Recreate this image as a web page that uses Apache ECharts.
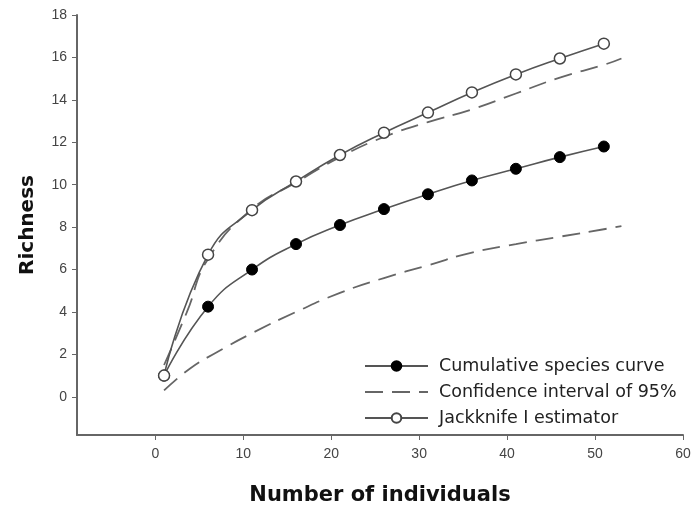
<!DOCTYPE html>
<html><head><meta charset="utf-8">
<script src="https://cdn.jsdelivr.net/npm/echarts@6/dist/echarts.min.js"></script>
<style>html,body{margin:0;padding:0;background:#fff}#c{width:695px;height:511px}</style>
</head><body><div id="c"></div>
<script>
const xTicks = [0, 10, 20, 30, 40, 50, 60];
const yTicks = [0, 2, 4, 6, 8, 10, 12, 14, 16, 18];
const sampleX = [1, 6, 11, 16, 21, 26, 31, 36, 41, 46, 51];
const cumulative = [1, 4.25, 6.0, 7.2, 8.1, 8.85, 9.55, 10.2, 10.75, 11.3, 11.8];
const jackknife = [1, 6.7, 8.8, 10.15, 11.4, 12.45, 13.4, 14.35, 15.2, 15.95, 16.65];
const ciX = [1, 3.6, 6, 11, 16, 21, 26, 31, 36, 41, 46, 51, 53];
const ciUpper = [1.5, 4.0, 6.5, 8.85, 10.1, 11.3, 12.25, 12.95, 13.55, 14.3, 15.05, 15.65, 15.95];
const ciLowerX = [1, 4, 7, 11, 16, 21, 26, 31, 36, 41, 46, 51, 53];
const ciLower = [0.3, 1.35, 2.1, 3.0, 4.0, 4.9, 5.6, 6.2, 6.8, 7.2, 7.55, 7.9, 8.05];

const zip = (xs, ys) => xs.map((x, i) => [x, ys[i]]);
const lineCol = '#555';
const dashType = [18, 9];
const chart = echarts.init(document.getElementById('c'));
chart.setOption({
  animation: false,
  backgroundColor: '#fff',
  grid: {left: 77, right: 12, top: 15, bottom: 75},
  xAxis: {
    type: 'value', min: -8.9, max: 60,
    name: 'Number of individuals', nameLocation: 'middle', nameGap: 50,
    nameTextStyle: {fontFamily: 'DejaVu Sans', fontWeight: 'bold', fontSize: 21, color: '#111'},
    axisLine: {onZero: false, lineStyle: {color: '#666', width: 2}},
    axisTick: {show: true, length: 5, customValues: xTicks, lineStyle: {color: '#666'}},
    axisLabel: {customValues: xTicks, color: '#444', fontFamily: 'Liberation Sans', fontSize: 14, margin: 12},
    splitLine: {show: false}
  },
  yAxis: {
    type: 'value', min: -1.8, max: 18,
    name: 'Richness', nameLocation: 'middle', nameGap: 39,
    nameTextStyle: {fontFamily: 'DejaVu Sans', fontWeight: 'bold', fontSize: 20, color: '#111'},
    axisLine: {show: true, onZero: false, lineStyle: {color: '#666', width: 2}},
    axisTick: {show: true, length: 5, customValues: yTicks, lineStyle: {color: '#666'}},
    axisLabel: {customValues: yTicks, color: '#444', fontFamily: 'Liberation Sans', fontSize: 14, margin: 10},
    splitLine: {show: false}
  },
  legend: {
    orient: 'vertical', left: 359, top: 352, itemGap: 8, itemWidth: 63, itemHeight: 12,
    textStyle: {fontFamily: 'DejaVu Sans', fontSize: 17.5, lineHeight: 18, color: '#222', padding: [0, 0, 0, 6]},
    data: [
      {name: 'Cumulative species curve'},
      {name: 'Confidence interval of 95%', itemStyle: {opacity: 0}},
      {name: 'Jackknife I estimator'}
    ]
  },
  series: [
    {
      name: 'Confidence interval of 95%', type: 'line', smooth: true, showSymbol: false, symbol: 'none',
      data: zip(ciX, ciUpper), lineStyle: {color: '#666', width: 1.8, type: dashType}, itemStyle: {color: '#666'}, z: 1
    },
    {
      name: 'Confidence interval of 95%', type: 'line', smooth: true, showSymbol: false, symbol: 'none',
      data: zip(ciLowerX, ciLower), lineStyle: {color: '#666', width: 1.8, type: dashType}, itemStyle: {color: '#666'}, z: 1
    },
    {
      name: 'Cumulative species curve', type: 'line', smooth: true, symbol: 'circle', symbolSize: 11,
      data: zip(sampleX, cumulative), lineStyle: {color: lineCol, width: 1.6},
      itemStyle: {color: '#000', borderColor: '#000', borderWidth: 1}, z: 3
    },
    {
      name: 'Jackknife I estimator', type: 'line', smooth: true, symbol: 'circle', symbolSize: 11,
      data: zip(sampleX, jackknife), lineStyle: {color: lineCol, width: 1.6},
      itemStyle: {color: '#fff', borderColor: '#444', borderWidth: 1.5}, z: 3
    }
  ]
});
</script></body></html>
